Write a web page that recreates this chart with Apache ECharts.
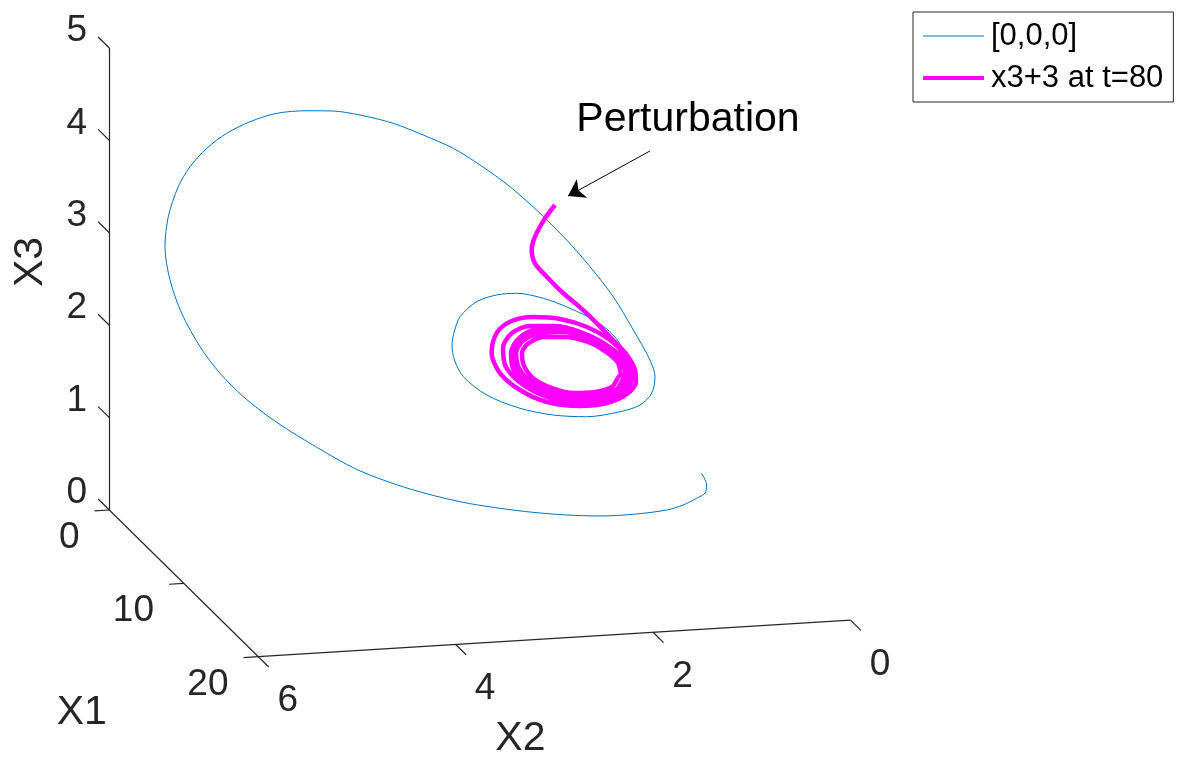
<!DOCTYPE html>
<html>
<head>
<meta charset="utf-8">
<script src="https://cdn.jsdelivr.net/npm/echarts@6/dist/echarts.min.js"></script>
<style>
  html, body { margin: 0; padding: 0; background: #ffffff; }
  #chart { width: 1177px; height: 758px; }
</style>
</head>
<body>
<div id="chart"></div>
<script>
// ---------------- data (axis units) ----------------
const X1_TICKS = [0, 10, 20];
const X2_TICKS = [0, 2, 4, 6];
const X3_TICKS = [0, 1, 2, 3, 4, 5];
const AXIS_NAMES = ['X1', 'X2', 'X3'];
const SERIES_NAMES = ['[0,0,0]', 'x3+3 at t=80'];

// trajectories as seen: [X2, X3] on the X1 = 0 face of the box
const blueTrajectory = [
  [0, 0], [-0.053, -0.129], [-0.036, -0.215], [0.049, -0.266], [0.187, -0.330], [0.353, -0.373],
  [0.691, -0.397], [1.028, -0.393], [1.366, -0.360], [1.704, -0.309], [2.042, -0.243], [2.447, -0.145],
  [2.953, 0.026], [3.480, 0.267], [3.967, 0.588], [4.338, 0.864], [4.642, 1.137], [4.878, 1.405],
  [5.081, 1.707], [5.266, 2.080], [5.385, 2.449], [5.436, 2.812], [5.402, 3.135], [5.301, 3.453],
  [5.182, 3.661], [5.013, 3.849], [4.811, 3.998], [4.574, 4.108], [4.304, 4.181], [4.000, 4.189],
  [3.731, 4.168], [3.460, 4.107], [3.123, 3.995], [2.819, 3.848], [2.515, 3.684], [2.244, 3.486],
  [1.940, 3.231], [1.636, 2.923], [1.366, 2.616], [1.130, 2.312], [0.894, 1.971], [0.691, 1.598],
  [0.522, 1.262], [0.471, 1.078], [0.505, 0.900], [0.623, 0.781], [0.826, 0.722], [1.163, 0.690],
  [1.502, 0.731], [1.839, 0.826], [2.176, 0.992], [2.413, 1.206], [2.503, 1.393], [2.528, 1.557],
  [2.503, 1.706], [2.447, 1.857], [2.278, 2.009], [2.075, 2.068], [1.872, 2.073], [1.603, 2.001],
  [1.332, 1.875], [1.062, 1.712], [0.894, 1.557], [0.792, 1.388], [0.724, 1.167],
  [0.765, 1.115], [0.856, 0.970], [1.049, 0.907], [1.282, 0.911], [1.525, 0.982], [1.727, 1.103],
  [1.849, 1.263], [1.879, 1.427], [1.798, 1.562], [1.626, 1.627], [1.403, 1.623], [1.150, 1.541],
  [0.937, 1.397], [0.805, 1.259], [0.765, 1.115]
];

const magentaTrajectory = [
  [1.484, 3.003], [1.586, 2.865], [1.687, 2.673], [1.720, 2.531], [1.687, 2.385], [1.568, 2.232],
  [1.400, 2.042], [1.198, 1.847], [1.028, 1.656], [0.897, 1.503], [0.755, 1.331], [0.674, 1.164],
  [0.664, 1.033], [0.755, 0.909], [0.957, 0.825], [1.231, 0.811], [1.565, 0.876], [1.839, 1.024],
  [2.042, 1.221], [2.126, 1.443], [2.075, 1.657], [1.940, 1.770], [1.707, 1.805], [1.434, 1.766],
  [1.160, 1.661], [0.927, 1.505], [0.775, 1.333], [0.704, 1.166],
  [0.724, 1.005], [0.846, 0.894], [1.049, 0.842], [1.312, 0.859], [1.586, 0.942], [1.819, 1.088],
  [1.981, 1.282], [2.011, 1.490], [1.920, 1.646], [1.738, 1.710], [1.484, 1.693], [1.201, 1.599],
  [0.957, 1.442], [0.795, 1.280], [0.735, 1.135],
  [0.724, 1.080], [0.805, 0.923], [1.008, 0.850], [1.261, 0.856], [1.535, 0.928], [1.758, 1.051],
  [1.900, 1.234], [1.930, 1.430], [1.849, 1.587], [1.667, 1.673], [1.424, 1.668], [1.150, 1.574],
  [0.917, 1.418], [0.765, 1.256], [0.724, 1.080],
  [0.745, 1.098], [0.830, 0.947], [1.028, 0.879], [1.272, 0.884], [1.530, 0.955], [1.742, 1.077],
  [1.875, 1.249], [1.905, 1.429], [1.824, 1.575], [1.647, 1.650], [1.414, 1.646], [1.150, 1.558],
  [0.927, 1.408], [0.785, 1.258], [0.745, 1.098],
  [0.765, 1.115], [0.856, 0.970], [1.049, 0.907], [1.282, 0.911], [1.525, 0.982], [1.727, 1.103],
  [1.849, 1.263], [1.879, 1.427], [1.798, 1.562], [1.626, 1.627], [1.403, 1.623], [1.150, 1.541],
  [0.937, 1.397], [0.805, 1.259], [0.765, 1.115],
  [0.816, 1.119], [0.907, 0.995], [1.079, 0.952], [1.292, 0.955], [1.515, 1.024], [1.697, 1.134],
  [1.798, 1.281], [1.819, 1.423], [1.748, 1.527], [1.586, 1.581], [1.383, 1.568], [1.150, 1.498],
  [0.968, 1.378], [0.846, 1.251], [0.816, 1.119]
];

// annotation, [X2, X3] on the X1 = 0 face
const ANNOTATION_TEXT = 'Perturbation';
const annotationText = [0.137, 3.834];
const annotationArrow = [[0.522, 3.524], [1.353, 3.091]];

// ---------------- view (projection of the 3-D box onto the page) ----------------
const VIEW = {
  origin: [109.3, 510],          // page position of (X1=0, X2=6, X3=0)
  e1: [7.45, 7.335],             // per unit of X1
  e2: [-98.7, 6.1],              // per unit of X2
  e3: [0, -92.4],                // per unit of X3
  x2Ref: 6
};
function proj(x1, x2, x3) {
  const d2 = x2 - VIEW.x2Ref;
  return [
    VIEW.origin[0] + VIEW.e1[0] * x1 + VIEW.e2[0] * d2 + VIEW.e3[0] * x3,
    VIEW.origin[1] + VIEW.e1[1] * x1 + VIEW.e2[1] * d2 + VIEW.e3[1] * x3
  ];
}
const X1MAX = X1_TICKS[X1_TICKS.length - 1];
const X2MAX = X2_TICKS[X2_TICKS.length - 1];
const X3MAX = X3_TICKS[X3_TICKS.length - 1];

const AX_COLOR = '#262626';
const BLUE = '#0072BD';
const MAGENTA = '#FF00FF';
const FONT = 'Liberation Sans, Arial, Helvetica, sans-serif';

// axis lines
const axisSegments = [
  { coords: [proj(0, X2MAX, 0), proj(0, X2MAX, X3MAX)] },
  { coords: [proj(0, X2MAX, 0), proj(X1MAX, X2MAX, 0)] },
  { coords: [proj(X1MAX, X2MAX, 0), proj(X1MAX, 0, 0)] }
];
// tick marks
const tickSegments = [];
const tickLabels = [];
X3_TICKS.forEach(v => {
  const a = proj(0, X2MAX, v), b = proj(-1.5, X2MAX, v);
  tickSegments.push({ coords: [a, b] });
  tickLabels.push({ value: b, name: String(v), label: { align: 'right', offset: [-11, -6] } });
});
X1_TICKS.forEach(v => {
  const a = proj(v, X2MAX, 0), b = proj(v, X2MAX + 0.15, 0);
  tickSegments.push({ coords: [a, b] });
  tickLabels.push({ value: b, name: String(v), label: { align: 'right', offset: [-15, 27] } });
});
X2_TICKS.forEach(v => {
  const a = proj(X1MAX, v, 0), b = proj(X1MAX + 1.4, v, 0);
  tickSegments.push({ coords: [a, b] });
  tickLabels.push({ value: b, name: String(v), label: { align: 'center', offset: [19, 34] } });
});

const axisTitles = [
  { value: proj(X1MAX / 2, X2MAX, 0), name: AXIS_NAMES[0], label: { offset: [-102, 129] } },
  { value: proj(X1MAX, X2MAX / 2, 0), name: AXIS_NAMES[1], label: { offset: [-34, 100] } },
  { value: proj(0, X2MAX, X3MAX / 2), name: AXIS_NAMES[2], label: { offset: [17, -79], rotate: 90 } }
];

const textSeries = (data, size, color, extra) => ({
  type: 'scatter', silent: true, symbol: 'circle', symbolSize: 0, z: 6,
  itemStyle: { color: 'rgba(0,0,0,0)', opacity: 1 },
  label: Object.assign({ show: true, position: 'inside', formatter: '{b}', color: color, opacity: 1,
           textBorderWidth: 0, fontFamily: FONT, fontSize: size, verticalAlign: 'middle' }, extra || {}),
  data: data
});

const chart = echarts.init(document.getElementById('chart'), null, { renderer: 'canvas' });
chart.setOption({
  animation: false,
  backgroundColor: '#ffffff',
  grid: { left: 0, right: 0, top: 0, bottom: 0, containLabel: false },
  xAxis: { type: 'value', min: 0, max: 1177, show: false },
  yAxis: { type: 'value', min: 0, max: 758, inverse: true, show: false },
  legend: {
    data: [
      { name: SERIES_NAMES[0], lineStyle: { width: 1, color: BLUE } },
      { name: SERIES_NAMES[1], lineStyle: { width: 4, color: MAGENTA } }
    ],
    orient: 'vertical',
    left: 913, top: 12,
    padding: [7, 10, 7, 8],
    itemWidth: 61, itemHeight: 14, itemGap: 8,
    itemStyle: { opacity: 0 },
    borderColor: AX_COLOR, borderWidth: 1, backgroundColor: '#ffffff',
    textStyle: { fontFamily: FONT, fontSize: 31, color: '#000000', lineHeight: 34, padding: [0, 0, 0, 2] },
    selectedMode: false
  },
  series: [
    {
      type: 'lines', coordinateSystem: 'cartesian2d', silent: true, z: 1,
      lineStyle: { color: AX_COLOR, width: 1.2, opacity: 1 },
      data: axisSegments.concat(tickSegments)
    },
    textSeries(tickLabels, 37, AX_COLOR),
    textSeries(axisTitles, 41, AX_COLOR, { align: 'center' }),
    {
      name: SERIES_NAMES[0], type: 'line', z: 3,
      showSymbol: false, symbol: 'none', smooth: 0.3,
      lineStyle: { color: BLUE, width: 1 },
      itemStyle: { color: BLUE },
      data: blueTrajectory.map(p => proj(0, p[0], p[1]))
    },
    {
      name: SERIES_NAMES[1], type: 'line', z: 4,
      showSymbol: false, symbol: 'none', smooth: 0.3,
      lineStyle: { color: MAGENTA, width: 4.5 },
      itemStyle: { color: MAGENTA },
      data: magentaTrajectory.map(p => proj(0, p[0], p[1]))
    },
    {
      type: 'lines', coordinateSystem: 'cartesian2d', silent: true, z: 5,
      symbol: ['none', 'arrow'], symbolSize: [0, 16],
      lineStyle: { color: '#000000', width: 1, opacity: 1 },
      data: [{ coords: annotationArrow.map(p => proj(0, p[0], p[1])) }]
    },
    textSeries([{ value: proj(0, annotationText[0], annotationText[1]), name: ANNOTATION_TEXT }],
               41, '#000000', { align: 'center' })
  ]
});
</script>
</body>
</html>
